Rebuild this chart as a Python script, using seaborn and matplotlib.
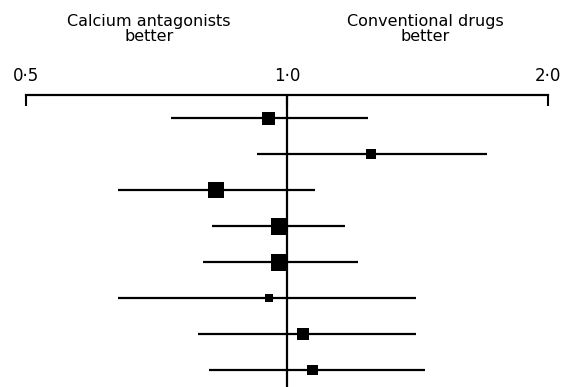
import numpy as np
import pandas as pd
import seaborn as sns
import matplotlib.pyplot as plt

# odds ratios, top to bottom
odds = [0.951, 1.25, 0.828, 0.979, 0.979, 0.953, 1.043, 1.071]
ci_low = [0.735, 0.923, 0.639, 0.819, 0.800, 0.639, 0.789, 0.813]
ci_high = [1.24, 1.70, 1.077, 1.166, 1.207, 1.41, 1.41, 1.443]
weight = [11.8, 7.0, 17.9, 20.2, 20.2, 4.5, 10.1, 8.4]  # % weight -> square area

tick_vals = [0.5, 1.0, 2.0]
tick_labels = ["0·5", "1·0", "2·0"]
left_label = "Calcium antagonists\nbetter"
right_label = "Conventional drugs\nbetter"

df = pd.DataFrame({"row": np.arange(len(odds)), "odds": odds,
                   "lo": ci_low, "hi": ci_high, "weight": weight})

sns.set_style("white")
plt.rcParams["font.family"] = ["DejaVu Sans"]
plt.rcParams["text.color"] = "black"
plt.rcParams["xtick.color"] = "black"
plt.rcParams["xtick.labelcolor"] = "black"

W, H = 572, 387
fig = plt.figure(figsize=(W / 100, H / 100), dpi=100)
ax = fig.add_axes([26 / W, 0, 522 / W, (H - 95) / H])

# confidence intervals
ax.hlines(df["row"], df["lo"], df["hi"], color="black", lw=1.6, zorder=2)
# line of no effect
ax.axvline(1.0, color="black", lw=1.6, zorder=1)

sns.scatterplot(data=df, x="odds", y="row", size="weight",
                sizes=(0, 150), size_norm=(0, 20.2), marker="s",
                color="black", linewidth=0, legend=False, ax=ax, zorder=3)

ax.set_xscale("log", base=2)
ax.set_xlim(0.5, 2.0)
ax.set_ylim(7.472, -0.639)
ax.set_xticks(tick_vals)
ax.set_xticklabels(tick_labels, fontsize=12)
ax.minorticks_off()
ax.set_yticks([])
ax.set_xlabel("")
ax.set_ylabel("")
ax.xaxis.tick_top()
ax.tick_params(axis="x", direction="in", length=8, width=1.5, pad=7,
               top=True, bottom=False, color="black", labelcolor="black")
for s in ["left", "right", "bottom"]:
    ax.spines[s].set_visible(False)
ax.spines["top"].set_linewidth(1.6)
ax.spines["top"].set_color("black")

fig.text(149 / W, 1 - 29 / H, left_label, ha="center", va="center", fontsize=11.5,
         linespacing=1.05, color="black")
fig.text(425 / W, 1 - 29 / H, right_label, ha="center", va="center", fontsize=11.5,
         linespacing=1.05, color="black")

fig.savefig("out.png", dpi=100)
